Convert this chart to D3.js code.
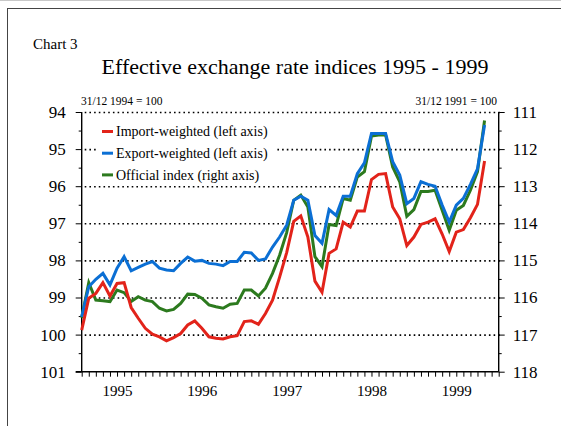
<!DOCTYPE html>
<html>
<head>
<meta charset="utf-8">
<script src="https://cdn.jsdelivr.net/npm/d3@7"></script>
<style>
  html, body { margin: 0; padding: 0; background: #fff; }
  svg { display: block; }
  text { font-family: "Liberation Serif", "Times New Roman", serif; fill: #000; }
</style>
</head>
<body>
<svg id="chart" width="561" height="426"></svg>
<script>
// ---- Data (month-end values, Jan 1995 .. Oct 1999) ----
const yearLabels = ["1995", "1996", "1997", "1998", "1999"];
const leftTicks = [94, 95, 96, 97, 98, 99, 100, 101];
const rightTicks = [111, 112, 113, 114, 115, 116, 117, 118];

const importWeighted = [
  99.88, 99.02, 98.89, 98.60, 98.96, 98.62, 98.60, 99.27, 99.56, 99.83, 99.99, 100.06,
  100.17, 100.08, 99.97, 99.74, 99.63, 99.83, 100.06, 100.10, 100.12, 100.06, 100.03, 99.65,
  99.63, 99.72, 99.43, 99.07, 98.45, 97.79, 96.95, 96.80, 97.37, 98.56, 98.86, 97.81,
  97.69, 96.97, 97.10, 96.67, 96.67, 95.82, 95.68, 95.66, 96.56, 96.88, 97.60, 97.37,
  97.03, 96.97, 96.88, 97.29, 97.76, 97.24, 97.17, 96.85, 96.49, 95.32
];
const exportWeighted = [
  99.52, 98.71, 98.51, 98.35, 98.66, 98.21, 97.90, 98.28, 98.19, 98.10, 98.03, 98.21,
  98.26, 98.28, 98.08, 97.91, 98.02, 98.00, 98.08, 98.10, 98.14, 98.03, 98.03, 97.78,
  97.80, 98.00, 97.96, 97.64, 97.37, 97.05, 96.38, 96.27, 96.38, 97.33, 97.54, 96.63,
  96.79, 96.27, 96.27, 95.66, 95.37, 94.58, 94.58, 94.58, 95.34, 95.70, 96.47, 96.33,
  95.88, 95.95, 96.00, 96.51, 96.97, 96.51, 96.33, 95.95, 95.53, 94.35
];
const officialIndex = [
  116.55, 115.60, 116.07, 116.09, 116.11, 115.80, 115.87, 116.11, 115.98, 116.07, 116.11, 116.29,
  116.36, 116.32, 116.16, 115.91, 115.92, 116.02, 116.20, 116.25, 116.29, 116.18, 116.16, 115.80,
  115.80, 115.96, 115.75, 115.35, 114.86, 114.25, 113.38, 113.24, 113.56, 114.90, 115.17, 114.03,
  114.06, 113.33, 113.38, 112.75, 112.61, 111.65, 111.62, 111.62, 112.48, 112.88, 113.81, 113.63,
  113.14, 113.14, 113.11, 113.65, 114.19, 113.65, 113.52, 113.11, 112.61, 111.23
];
const seriesNames = ["Import-weighted (left axis)", "Export-weighted (left axis)", "Official index (right axis)"];
const seriesColors = ["#e2231a", "#0b6fd4", "#2c7a1e"];
const nMonthTicks = 60;

// ---- Layout ----
const svg = d3.select("#chart");
const L = 81.7, R = 498.7, T = 112, B = 371.7;

const x = d3.scaleLinear().domain([0, nMonthTicks - 1]).range([L, R]);
const yL = d3.scaleLinear().domain([94, 101]).range([T, B]);
const yR = d3.scaleLinear().domain([111, 118]).range([T, B]);

// outer frame
svg.append("line").attr("x1", 0).attr("x2", 561).attr("y1", 0.5).attr("y2", 0.5)
  .attr("stroke", "#c8c8c8").attr("stroke-width", 1);
svg.append("rect").attr("x", 7.5).attr("y", 8.5).attr("width", 700).attr("height", 600)
  .attr("fill", "none").attr("stroke", "#444").attr("stroke-width", 1);

// header texts
svg.append("text").attr("x", 33).attr("y", 49).attr("font-size", 15).text("Chart 3");
svg.append("text").attr("x", 295).attr("y", 74).attr("font-size", 22)
  .attr("text-anchor", "middle").text("Effective exchange rate indices 1995 - 1999");
svg.append("text").attr("x", 81).attr("y", 105).attr("font-size", 11.5).text("31/12 1994 = 100");
svg.append("text").attr("x", 497).attr("y", 105).attr("font-size", 11.5)
  .attr("text-anchor", "end").text("31/12 1991 = 100");

// dotted gridlines
const grid = svg.append("g").attr("transform", `translate(${L},0)`)
  .call(d3.axisRight(yL).tickValues(leftTicks.slice(0, -1)).tickSize(R - L).tickFormat(""));
grid.select(".domain").remove();
grid.selectAll(".tick line").attr("stroke", "#000").attr("stroke-width", 1.6)
  .attr("stroke-dasharray", "1.6 3.1").attr("transform", "translate(3,0)");

// left axis
const la = svg.append("g").attr("transform", `translate(${L},0)`)
  .call(d3.axisLeft(yL).tickValues(leftTicks).tickSize(6).tickPadding(10).tickFormat(d3.format("d")));
la.select(".domain").attr("d", `M0,${T}V${B}`).attr("stroke", "#000").attr("stroke-width", 1.4);
la.selectAll(".tick line").attr("stroke", "#000").attr("stroke-width", 1);
la.selectAll(".tick text").attr("font-size", 17).attr("font-family", "Liberation Serif").attr("fill", "#000");
const lm = svg.append("g").attr("transform", `translate(${L},0)`)
  .call(d3.axisLeft(yL).tickValues(d3.range(94.5, 101, 1)).tickSize(3).tickFormat(""));
lm.select(".domain").remove();
lm.selectAll(".tick line").attr("stroke", "#000");

// right axis
const ra = svg.append("g").attr("transform", `translate(${R},0)`)
  .call(d3.axisRight(yR).tickValues(rightTicks).tickSize(6).tickPadding(8).tickFormat(d3.format("d")));
ra.select(".domain").attr("d", `M0,${T}V${B}`).attr("stroke", "#000").attr("stroke-width", 1.4);
ra.selectAll(".tick line").attr("stroke", "#000").attr("stroke-width", 1);
ra.selectAll(".tick text").attr("font-size", 17).attr("font-family", "Liberation Serif").attr("fill", "#000");
const rm = svg.append("g").attr("transform", `translate(${R},0)`)
  .call(d3.axisRight(yR).tickValues(d3.range(111.5, 118, 1)).tickSize(3).tickFormat(""));
rm.select(".domain").remove();
rm.selectAll(".tick line").attr("stroke", "#000");

// bottom axis (monthly ticks)
const ba = svg.append("g").attr("transform", `translate(0,${B})`)
  .call(d3.axisBottom(x).tickValues(d3.range(0, nMonthTicks)).tickSize(5).tickFormat(""));
ba.select(".domain").attr("d", `M${L - 6},0H${R}`).attr("stroke", "#000").attr("stroke-width", 1.4);
ba.selectAll(".tick line").attr("stroke", "#000").attr("stroke-width", 1);
const yl = svg.append("g").attr("transform", `translate(0,${B})`)
  .call(d3.axisBottom(x).tickValues(yearLabels.map((d, i) => 5 + 12 * i)).tickSize(0).tickPadding(14)
    .tickFormat((d, i) => yearLabels[i]));
yl.select(".domain").remove();
yl.selectAll(".tick text").attr("font-size", 15).attr("font-family", "Liberation Serif").attr("fill", "#000");

// lines
const lineL = d3.line().x((d, i) => x(i)).y(d => yL(d));
const lineR = d3.line().x((d, i) => x(i)).y(d => yR(d));
const plot = svg.append("g").attr("fill", "none").attr("stroke-width", 3).attr("stroke-linejoin", "miter");
plot.append("path").datum(officialIndex).attr("d", lineR).attr("stroke", seriesColors[2]);
plot.append("path").datum(exportWeighted).attr("d", lineL).attr("stroke", seriesColors[1]);
plot.append("path").datum(importWeighted).attr("d", lineL).attr("stroke", seriesColors[0]);

// legend (white box hides gridline behind it)
svg.append("rect").attr("x", 98).attr("y", 120).attr("width", 179).attr("height", 62)
  .attr("fill", "#fff").attr("stroke", "none");
const leg = svg.append("g").attr("transform", "translate(102,131.5)");
seriesNames.forEach((name, i) => {
  const g = leg.append("g").attr("transform", `translate(0,${i * 21.7})`);
  g.append("line").attr("x1", 0).attr("x2", 11).attr("y1", 0).attr("y2", 0)
    .attr("stroke", seriesColors[i]).attr("stroke-width", 3);
  g.append("text").attr("x", 14).attr("y", 4.6).attr("font-size", 14).text(name);
});
</script>
</body>
</html>
